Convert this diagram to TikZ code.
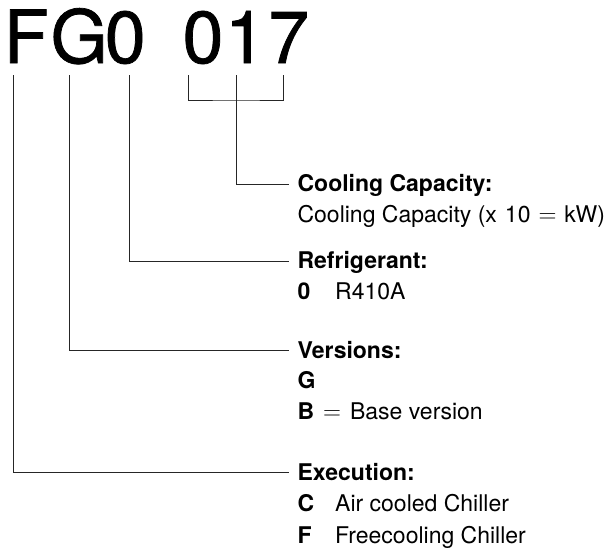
\documentclass[tikz,border=0pt]{standalone}
\usepackage{fontspec}
\setmainfont{TeX Gyre Heros}
\newfontfamily\modelfont{TeX Gyre Heros}[FakeBold=1]
\begin{document}
\begin{tikzpicture}[x=1pt,y=-1pt,
  conn/.style={line width=0.9pt, draw=black!85},
  head/.style={font=\fontsize{23}{27}\selectfont\bfseries, anchor=base west, inner xsep=8pt, inner ysep=0pt, text height=15pt, text depth=0pt},
  body/.style={font=\fontsize{23}{27}\selectfont, anchor=base west, inner sep=0pt},
  code/.style={font=\fontsize{23}{27}\selectfont\bfseries, anchor=base west, inner sep=0pt}]
\useasboundingbox (0,0) rectangle (608,547);

% model designation
\node[anchor=base west, inner sep=0pt, font=\modelfont\fontsize{73.5}{80}\selectfont] (model) at (3.5,63)
  {F\kern2pt G\kern-3pt 0\hspace{37pt}0\kern1.5pt 1\kern2.5pt 7};

% headings
\node[head] (cc)  at (289.4,191.5) {Cooling Capacity:};
\node[head] (ref) at (289.4,268.5) {Refrigerant:};
\node[head] (ver) at (289.4,358)   {Versions:};
\node[head] (exe) at (289.4,480)   {Execution:};

% body lines
\node[body] (cc1) at (297.4,222.5) {Cooling Capacity (x\hspace{8pt}10\hspace{8pt}$=$\hspace{8pt}kW)};
\node[code] (ref1) at (297.4,299.5) {0};
\node[body] (ref1v) at (335,299.5) {R410A};
\node[code] (ver1) at (297.4,388.5) {G};
\node[body] (ver2) at (297.4,419.5) {{\bfseries B}\hspace{9pt}$=$\hspace{9pt}Base version};
\node[code] (exe1) at (297.4,511.5) {C};
\node[body] (exe1v) at (335,511.5) {Air cooled Chiller};
\node[code] (exe2) at (297.4,543) {F};
\node[body] (exe2v) at (335,543) {Freecooling Chiller};

% connector start points under the designation
\coordinate (tF) at (13.5,75);
\coordinate (tG) at (69,75);
\coordinate (t0) at (129,75);
\coordinate (bL) at (188.5,75);
\coordinate (bC) at (236.5,75);
\coordinate (bR) at (283.5,75);
\coordinate (bJ) at (236.5,100);

\draw[conn] (tF) |- (exe.west);
\draw[conn] (tG) |- (ver.west);
\draw[conn] (t0) |- (ref.west);
\draw[conn] (bL) |- (bJ) -| (bR);
\draw[conn] (bC) |- (cc.west);
\end{tikzpicture}
\end{document}
